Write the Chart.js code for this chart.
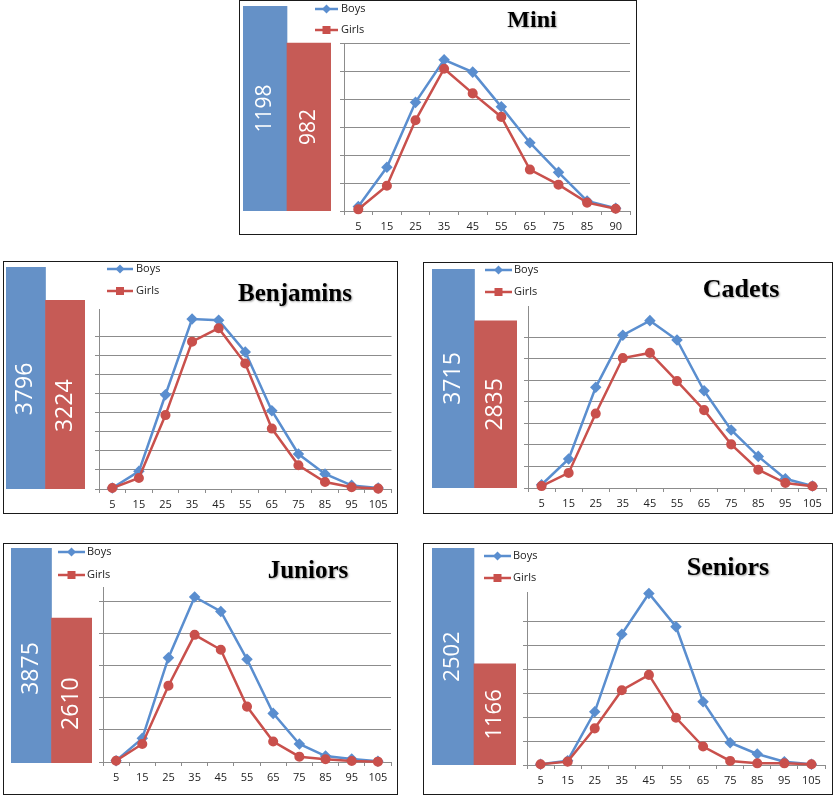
<!DOCTYPE html>
<html>
<head>
<meta charset="utf-8">
<title>Boys and girls by age group</title>
<script src="https://cdn.jsdelivr.net/npm/chart.js@4.4.1/dist/chart.umd.min.js"></script>
<style>
  body { margin: 0; background: #fff; }
  #page { position: relative; width: 833px; height: 796px; overflow: hidden; }
  .panel { position: absolute; outline: 1px solid #1a1a1a; outline-offset: -1px; }
  .panel canvas { position: absolute; }
</style>
</head>
<body>
<div id="page"></div>
<script>
// x axis labels (age groups)
const miniAges = ['5', '15', '25', '35', '45', '55', '65', '75', '85', '90'];
const ageGroups = ['5', '15', '25', '35', '45', '55', '65', '75', '85', '95', '105'];

const categories = ['Mini', 'Benjamins', 'Cadets', 'Juniors', 'Seniors'];
const seriesNames = ['Boys', 'Girls'];

// totals shown in the bars
const boysTotals = [1198, 3796, 3715, 3875, 2502];
const girlsTotals = [982, 3224, 2835, 2610, 1166];

// counts per age group
const miniBoys = [8, 78, 194, 270, 248, 186, 122, 69, 18, 5];
const miniGirls = [3, 45, 162, 254, 210, 168, 74, 47, 15, 4];
const benjaminsBoys = [5, 93, 496, 894, 888, 721, 412, 184, 79, 19, 5];
const benjaminsGirls = [5, 58, 389, 775, 846, 660, 318, 125, 37, 9, 2];
const cadetsBoys = [15, 135, 468, 710, 778, 688, 452, 270, 147, 43, 9];
const cadetsGirls = [9, 70, 346, 604, 628, 497, 362, 203, 85, 23, 8];
const juniorsBoys = [8, 147, 648, 1025, 935, 638, 302, 112, 37, 19, 4];
const juniorsGirls = [8, 112, 474, 790, 697, 344, 127, 33, 17, 6, 2];
const seniorsBoys = [3, 18, 222, 546, 716, 577, 264, 93, 46, 14, 3];
const seniorsGirls = [3, 14, 153, 312, 376, 197, 77, 17, 7, 7, 3];

const barBlue = '#6591C7';
const barRed = '#C65B56';
const lineBlue = '#5A8ECF';
const lineRed = '#C9504C';
const gridGray = '#8c8c8c';

// page layout, in page pixels
const panels = [
  { labels: miniAges, boys: miniBoys, girls: miniGirls, max: 300, step: 50,
    box: [239, 0, 398, 235], bars: [243, 287, 331, 6, 211], plot: [344, 43, 630, 211],
    legend: [315, 338, 9, 30, 341], title: [532, 21, 24], num: 21, shift: 0 },
  { labels: ageGroups, boys: benjaminsBoys, girls: benjaminsGirls, max: 947, step: 100,
    box: [3, 261, 395, 253], bars: [6, 46, 85, 267, 489], plot: [99, 309, 393, 489],
    legend: [107, 133, 269, 291, 136], title: [295, 295, 25], num: 23, shift: 11 },
  { labels: ageGroups, boys: cadetsBoys, girls: cadetsGirls, max: 846, step: 100,
    box: [423, 262, 410, 252], bars: [432, 473, 517, 269, 488], plot: [528, 306, 826, 488],
    legend: [485, 512, 270, 292, 514], title: [741, 290, 26], num: 23, shift: 0 },
  { labels: ageGroups, boys: juniorsBoys, girls: juniorsGirls, max: 1087, step: 200,
    box: [3, 543, 395, 252], bars: [11, 51, 92, 548, 763], plot: [103, 587, 391, 762],
    legend: [58, 85, 552, 575, 87], title: [308, 572, 25], num: 23, shift: 13 },
  { labels: ageGroups, boys: seniorsBoys, girls: seniorsGirls, max: 722, step: 100,
    box: [423, 543, 410, 252], bars: [432, 473, 516, 548, 765], plot: [527, 592, 825, 765],
    legend: [484, 511, 556, 578, 513], title: [728, 568, 26], num: 22, shift: 0 }
];

// white vertical numbers inside the bars
const barText = {
  id: 'barText',
  afterDatasetsDraw(chart, args, opts) {
    const ctx = chart.ctx;
    chart.getDatasetMeta(0).data.forEach((bar, k) => {
      ctx.save();
      ctx.translate(bar.x, (bar.y + bar.base) / 2 + opts.shift);
      ctx.rotate(-Math.PI / 2);
      ctx.fillStyle = '#fff';
      ctx.font = opts.size + 'px "Open Sans"';
      ctx.textAlign = 'center';
      ctx.textBaseline = 'middle';
      ctx.fillText(String(chart.data.datasets[0].data[k]), 0, 0);
      ctx.restore();
    });
  }
};

// legend with line + marker, and the big title
const panelText = {
  id: 'panelText',
  afterDraw(chart, args, o) {
    const ctx = chart.ctx;
    const [x1, x2, y1, y2, tx] = o.legend;
    const items = [[y1, lineBlue, seriesNames[0], 'diamond'], [y2, lineRed, seriesNames[1], 'square']];
    items.forEach(([y, col, name, shape]) => {
      ctx.save();
      ctx.strokeStyle = col;
      ctx.fillStyle = col;
      ctx.lineWidth = 2.5;
      ctx.beginPath();
      ctx.moveTo(x1, y);
      ctx.lineTo(x2, y);
      ctx.stroke();
      const mx = (x1 + x2) / 2;
      if (shape === 'diamond') {
        ctx.beginPath();
        ctx.moveTo(mx, y - 4.5);
        ctx.lineTo(mx + 4.5, y);
        ctx.lineTo(mx, y + 4.5);
        ctx.lineTo(mx - 4.5, y);
        ctx.closePath();
        ctx.fill();
      } else {
        ctx.fillRect(mx - 4, y - 4, 8, 8);
      }
      ctx.fillStyle = '#222';
      ctx.font = '11px "Open Sans"';
      ctx.textAlign = 'left';
      ctx.textBaseline = 'middle';
      ctx.fillText(name, tx, y);
      ctx.restore();
    });

    const [cx, cy, size] = o.title;
    ctx.save();
    ctx.font = 'bold ' + size + 'px "Liberation Serif"';
    ctx.textAlign = 'center';
    ctx.textBaseline = 'middle';
    ctx.shadowColor = 'rgba(0,0,0,0.35)';
    ctx.shadowBlur = 2;
    ctx.shadowOffsetX = 1;
    ctx.shadowOffsetY = 1;
    ctx.fillStyle = '#000';
    ctx.fillText(o.text, cx, cy);
    ctx.restore();
  }
};

function addCanvas(parent, x, y, w, h) {
  const c = document.createElement('canvas');
  c.width = w;
  c.height = h;
  c.style.left = x + 'px';
  c.style.top = y + 'px';
  c.style.width = w + 'px';
  c.style.height = h + 'px';
  parent.appendChild(c);
  return c;
}

function barChart(p, div, i) {
  const [bx, by] = p.box;
  const [l, m, r, t, b] = p.bars;
  const c = addCanvas(div, l - bx, t - by, r - l, b - t);
  new Chart(c, {
    type: 'bar',
    data: {
      labels: seriesNames,
      datasets: [{
        data: [boysTotals[i], girlsTotals[i]],
        backgroundColor: [barBlue, barRed],
        categoryPercentage: 1,
        barPercentage: 1,
        borderWidth: 0
      }]
    },
    options: {
      responsive: false,
      animation: false,
      events: [],
      layout: { padding: 0 },
      plugins: {
        legend: { display: false },
        tooltip: { enabled: false },
        barText: { shift: p.shift, size: p.num }
      },
      scales: {
        x: { display: false },
        y: { display: false, min: 0, max: boysTotals[i] }
      }
    },
    plugins: [barText]
  });
}

function lineChart(p, div, i) {
  const [bx, by, bw, bh] = p.box;
  const [pl, pt, pr, pb] = p.plot;
  const c = addCanvas(div, 0, 0, bw, bh);
  const lg = p.legend;
  new Chart(c, {
    type: 'line',
    data: {
      labels: p.labels,
      datasets: [
        { label: seriesNames[0], data: p.boys, order: 1, borderColor: lineBlue, backgroundColor: lineBlue,
          borderWidth: 2.5, pointStyle: 'rectRot', pointRadius: 4, tension: 0, clip: false },
        { label: seriesNames[1], data: p.girls, order: 0, borderColor: lineRed, backgroundColor: lineRed,
          borderWidth: 2.5, pointStyle: 'circle', pointRadius: 3.8, tension: 0, clip: false }
      ]
    },
    options: {
      responsive: false,
      animation: false,
      events: [],
      layout: {
        padding: { left: pl - bx - 4, top: pt - by, right: bw - (pr - bx), bottom: bh - (pb - by) - 24 }
      },
      plugins: {
        legend: { display: false },
        tooltip: { enabled: false },
        panelText: {
          legend: [lg[0] - bx, lg[1] - bx, lg[2] - by, lg[3] - by, lg[4] - bx],
          title: [p.title[0] - bx, p.title[1] - by, p.title[2]],
          text: categories[i]
        }
      },
      scales: {
        x: {
          offset: true,
          grid: { offset: true, drawOnChartArea: false, tickLength: 4, color: gridGray },
          border: { color: gridGray },
          ticks: { padding: 5, color: '#222', font: { family: 'Open Sans', size: 11 }, maxRotation: 0, autoSkip: false },
          afterFit: s => { s.height = 24; }
        },
        y: {
          min: 0,
          max: p.max,
          ticks: { display: false, stepSize: p.step },
          grid: { color: gridGray, tickLength: 4 },
          border: { color: gridGray },
          afterFit: s => { s.width = 4; },
          afterBuildTicks: s => { s.ticks = s.ticks.filter(t => t.value % p.step === 0); }
        }
      }
    },
    plugins: [panelText]
  });
}

const page = document.getElementById('page');
panels.forEach((p, i) => {
  const div = document.createElement('div');
  div.className = 'panel';
  div.style.left = p.box[0] + 'px';
  div.style.top = p.box[1] + 'px';
  div.style.width = p.box[2] + 'px';
  div.style.height = p.box[3] + 'px';
  page.appendChild(div);
  barChart(p, div, i);
  lineChart(p, div, i);
});
</script>
</body>
</html>
